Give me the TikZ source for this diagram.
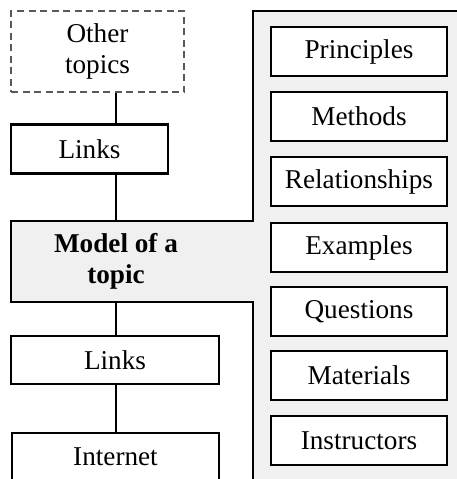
\documentclass[tikz,border=0pt]{standalone}
\usepackage{fontspec}
\setmainfont{Liberation Serif}
\begin{document}
\begin{tikzpicture}[x=1pt,y=-1pt,
    line width=2.7pt,
    every node/.style={font=\fontsize{27.2}{31.5}\selectfont, inner sep=0pt, align=center},
    box/.style={draw=black, fill=white, rectangle},
    rbox/.style={box, minimum width=176pt, minimum height=49pt},
    ghost/.style={draw=black!65, line width=1.2pt, dash pattern=on 7pt off 4.5pt, rectangle}]
  \definecolor{panel}{HTML}{F0F0F0}
  \useasboundingbox (0,0) rectangle (457,479);
  \clip (0,0) rectangle (457,479);

  % grey topic model panel with its list of components
  \draw[fill=panel] (11,302) -- (11,221) -- (253,221) -- (253,11) -- (470,11)
        -- (470,495) -- (253,495) -- (253,302) -- cycle;

  % left column
  \node[ghost, minimum width=173pt, minimum height=81pt] (other) at (97.5,51.5) {Other\\topics};
  \node[box, minimum width=157pt, minimum height=49pt] (links1) at (89.5,149) {Links};
  \node[minimum width=242pt, minimum height=81pt] (model) at (132,261.5) {};
  \node[font=\bfseries\fontsize{27.2}{31.5}\selectfont] (modeltext) at (116,261.5) {Model of a\\topic};
  \node[box, minimum width=208pt, minimum height=48pt] (links2) at (115,360) {Links};
  \node[box, minimum width=207pt, minimum height=48pt] (internet) at (115.5,457) {Internet};

  % spine of connectors
  \coordinate (spine) at (116,0);
  \draw (spine |- other.south) -- (spine |- links1.north);
  \draw (spine |- links1.south) -- (spine |- model.north);
  \draw (spine |- model.south) -- (spine |- links2.north);
  \draw (spine |- links2.south) -- (spine |- internet.north);

  % right column
  \node[rbox] (principles) at (359,51.5) {Principles};
  \node[rbox] (methods) at (359,116.5) {Methods};
  \node[rbox] (relations) at (359,181.5) {Relationships};
  \node[rbox] (examples) at (359,247.5) {Examples};
  \node[rbox] (questions) at (359,311.5) {Questions};
  \node[rbox] (materials) at (359,375.5) {Materials};
  \node[rbox] (instructors) at (359,440.5) {Instructors};
\end{tikzpicture}
\end{document}
